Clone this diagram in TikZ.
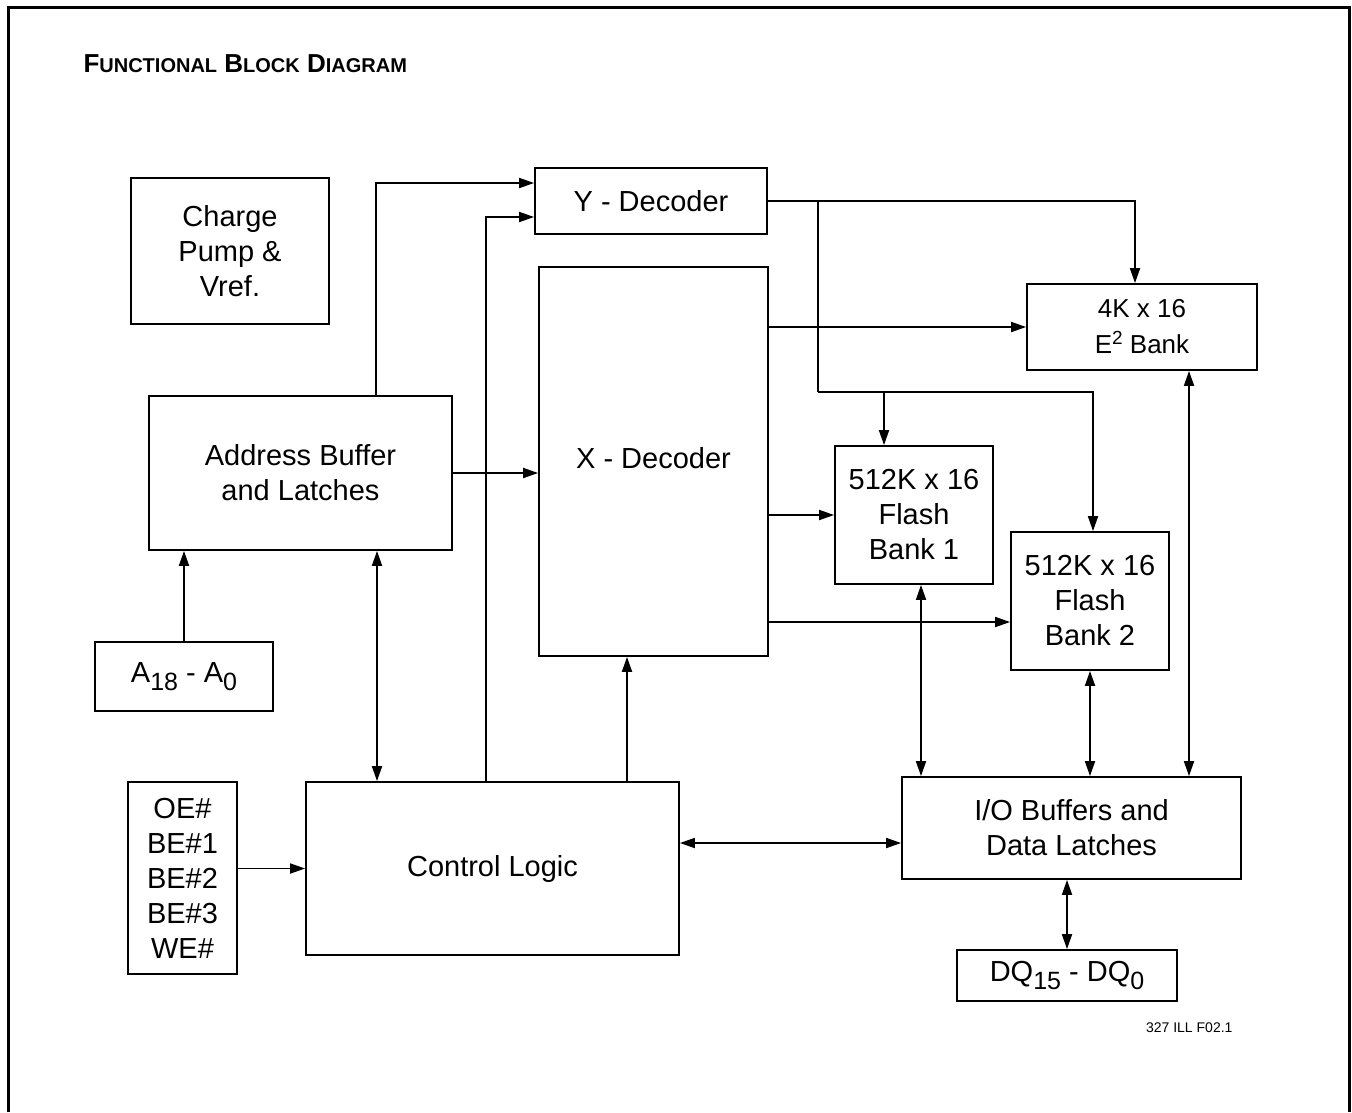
\documentclass[tikz,border=0pt]{standalone}
\usepackage{fontspec}
\setmainfont{Liberation Sans}
\usetikzlibrary{arrows.meta}

\newcommand{\lowtxt}[1]{\raisebox{-0.28em}{\fontsize{25}{25}\selectfont #1}}
\newcommand{\hightxt}[1]{\raisebox{0.38em}{\fontsize{19}{19}\selectfont #1}}
\newcommand{\smcap}[1]{{\fontsize{20}{24}\selectfont #1}}

\begin{document}
\begin{tikzpicture}[x=1pt, y=-1pt,
    blk/.style={draw, line width=1.8pt, align=center, inner sep=0pt,
      font=\fontsize{29}{35}\selectfont},
    arr/.style={line width=1.8pt, -{Triangle[length=15pt,width=10pt]}},
    dbl/.style={line width=1.8pt, {Triangle[length=15pt,width=10pt]}-{Triangle[length=15pt,width=10pt]}}]
  \useasboundingbox (0,0) rectangle (1352,1112);
  % frame, open at the bottom
  \draw[line width=3pt] (8.5,1112) -- (8.5,7) -- (1349.5,7) -- (1349.5,1112);
  \node[anchor=base west, font=\fontsize{26}{30}\selectfont\bfseries] (title) at (80,72)
    {F\smcap{UNCTIONAL} B\smcap{LOCK} D\smcap{IAGRAM}};

  % blocks
  \node[blk, minimum width=198pt, minimum height=146pt] (chg) at (230,251) {Charge\\Pump \&\\Vref.};
  \node[blk, minimum width=232pt, minimum height=66pt] (ydec) at (651,201) {Y - Decoder};
  \node[blk, minimum width=229pt, minimum height=389pt] (xdec) at (653.5,461.5) {\raisebox{8pt}{X - Decoder}};
  \node[blk, minimum width=303pt, minimum height=154pt] (addr) at (300.5,473) {Address Buffer\\and Latches};
  \node[blk, minimum width=178pt, minimum height=69pt] (a18) at (184,676.5) {A\lowtxt{18} - A\lowtxt{0}};
  \node[blk, minimum width=109pt, minimum height=192pt] (ctl) at (182.5,878) {OE\#\\BE\#1\\BE\#2\\BE\#3\\WE\#};
  \node[blk, minimum width=373pt, minimum height=173pt] (logic) at (492.5,868.5) {Control Logic};
  \node[blk, minimum width=230pt, minimum height=86pt, font=\fontsize{26}{36}\selectfont] (eebank) at (1142,327) {4K x 16\\E\hightxt{2} Bank};
  \node[blk, minimum width=158pt, minimum height=138pt] (fl1) at (914,515) {512K x 16\\Flash\\Bank 1};
  \node[blk, minimum width=158pt, minimum height=138pt] (fl2) at (1090,601) {512K x 16\\Flash\\Bank 2};
  \node[blk, minimum width=339pt, minimum height=102pt] (iob) at (1071.5,828) {I/O Buffers and\\Data Latches};
  \node[blk, minimum width=220pt, minimum height=51pt] (dq) at (1067,975.5) {DQ\lowtxt{15} - DQ\lowtxt{0}};
  \node[anchor=base east, font=\fontsize{14}{16}\selectfont] (figid) at (1236,1032) {327 ILL F02.1};

  % address and control paths
  \draw[arr] ([xshift=75.5pt]addr.north) |- ([yshift=18pt]ydec.west);
  \draw[arr] ([xshift=-6.5pt]logic.north) |- ([yshift=-16pt]ydec.west);
  \draw[arr] (addr.east) -- (addr.east -| xdec.west);
  \draw[arr] (a18.north) -- (a18.north |- addr.south);
  \draw[dbl] ([xshift=76.5pt]addr.south) -- ([xshift=76.5pt]addr.south |- logic.north);
  \draw[arr] ([xshift=134.5pt]logic.north) -- ([xshift=134.5pt]logic.north |- xdec.south);
  \draw[arr] (logic.west -| ctl.east) -- (logic.west);
  \draw[dbl] ([yshift=25.5pt]logic.east) -- ([yshift=25.5pt]logic.east -| iob.west);

  % Y - Decoder outputs
  \coordinate (ytap) at (818,201);
  \coordinate (ybend) at (818,392);
  \draw[arr] (ydec.east) -| ([xshift=-7pt]eebank.north);
  \draw[line width=1.8pt] (ytap) -- (ybend);
  \draw[arr] (ybend) -| ([xshift=3pt]fl2.north);
  \draw[arr] ([xshift=-30pt]fl1.north |- ybend) -- ([xshift=-30pt]fl1.north);

  % X - Decoder outputs
  \draw[arr] (xdec.east |- eebank.west) -- (eebank.west);
  \draw[arr] (xdec.east |- fl1.west) -- (fl1.west);
  \draw[arr] ([yshift=-21pt]fl2.west -| xdec.east) -- ([yshift=-21pt]fl2.west);

  % data paths
  \draw[dbl] ([xshift=7pt]fl1.south) -- ([xshift=7pt]fl1.south |- iob.north);
  \draw[dbl] (fl2.south) -- (fl2.south |- iob.north);
  \draw[dbl] ([xshift=47pt]eebank.south) -- ([xshift=47pt]eebank.south |- iob.north);
  \draw[dbl] (dq.north |- iob.south) -- (dq.north);
\end{tikzpicture}
\end{document}
